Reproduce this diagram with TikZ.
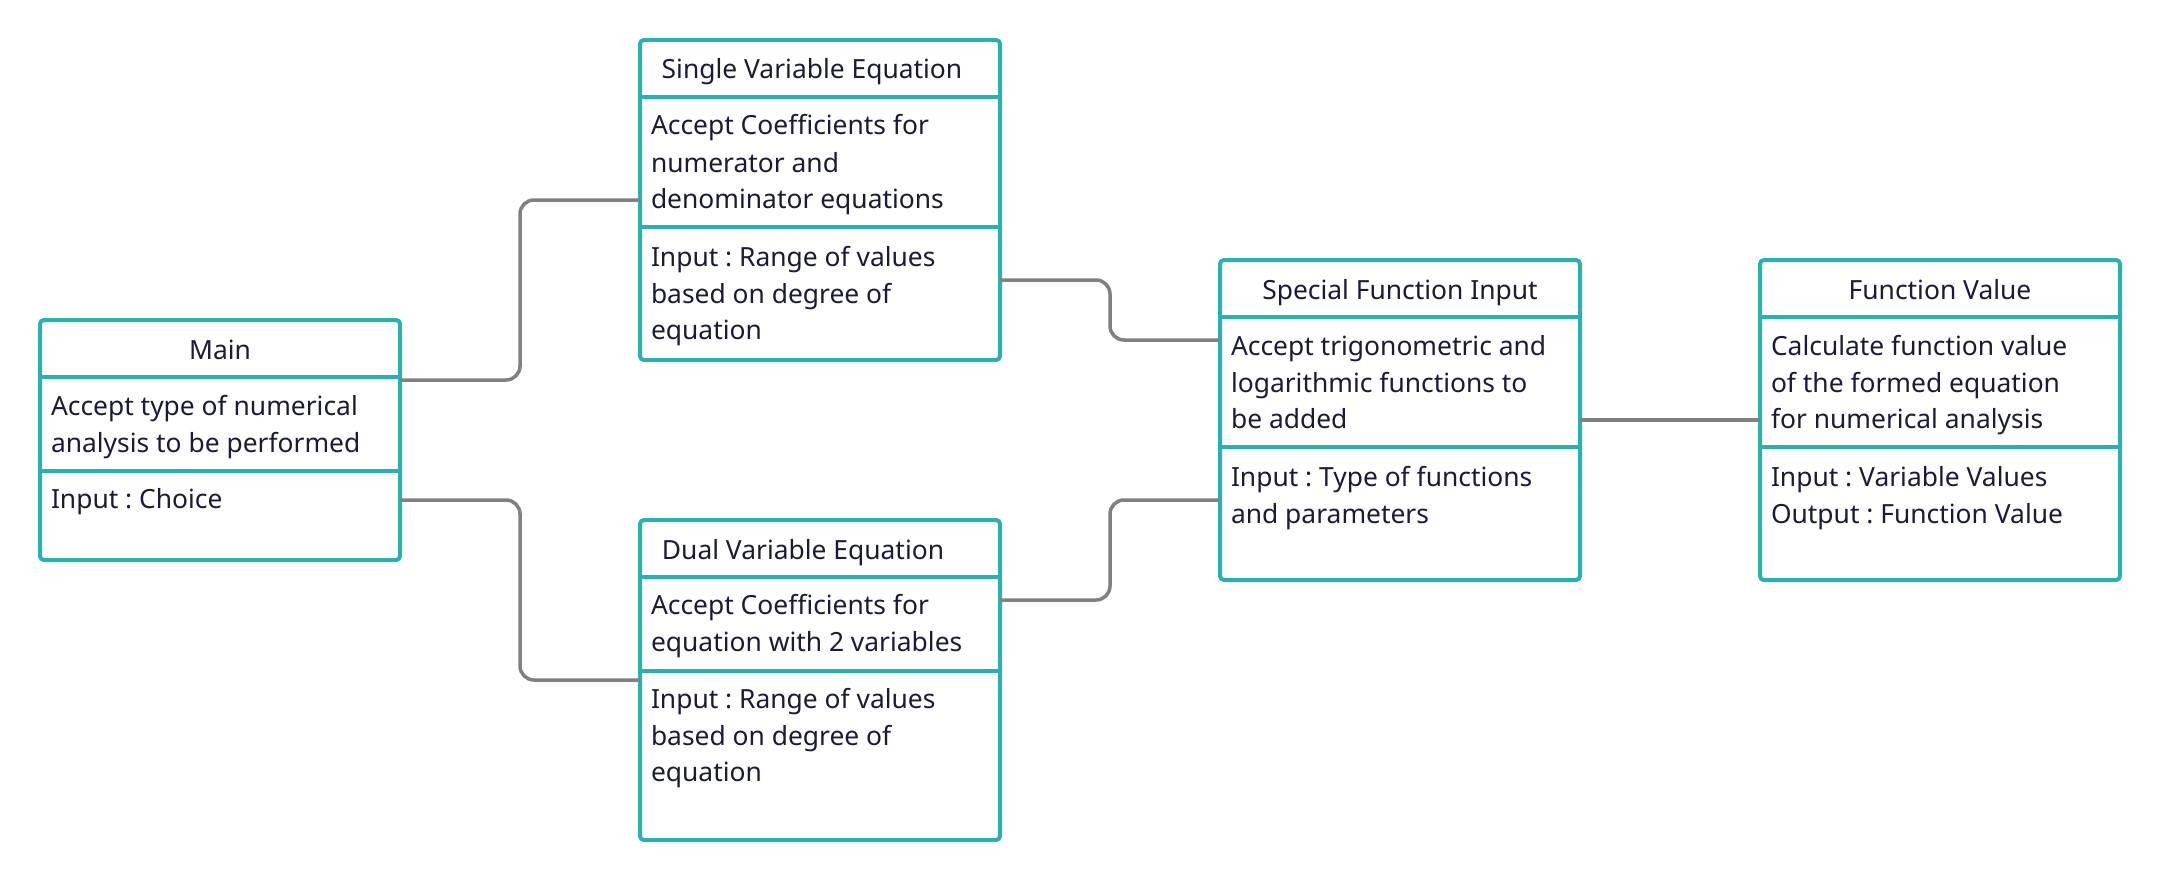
\documentclass[tikz,border=0pt]{standalone}
\usepackage{fontspec}
\setmainfont{Noto Sans}
\usetikzlibrary{calc}

\definecolor{frameteal}{HTML}{29B1AF}
\definecolor{linkgray}{HTML}{808080}
\definecolor{inkblue}{HTML}{1B1B35}

\tikzset{
  umlbox/.style={draw=frameteal, line width=4pt, rounded corners=4pt,
    fill=white, minimum width=360pt, inner sep=0pt, outer sep=0pt},
  divider/.style={draw=frameteal, line width=4pt},
  link/.style={draw=linkgray, line width=3.5pt, rounded corners=14pt},
  txt/.style={inner sep=0pt, outer sep=0pt, text=inkblue,
    font=\fontsize{26.4}{36}\selectfont\frenchspacing, anchor=base west},
  ttl/.style={txt, anchor=base},
}

\begin{document}
\begin{tikzpicture}[x=1pt, y=-1pt]
  % canvas
  \path[use as bounding box, fill=white] (0,0) rectangle (2160,880);

  % class boxes
  \node[umlbox, minimum height=240pt, anchor=north west] (main) at (40,320) {};
  \node[umlbox, minimum height=320pt, anchor=north west] (sve)  at (640,40) {};
  \node[umlbox, minimum height=320pt, anchor=north west] (dve)  at (640,520) {};
  \node[umlbox, minimum height=320pt, anchor=north west] (sfi)  at (1220,260) {};
  \node[umlbox, minimum height=320pt, anchor=north west] (fval) at (1760,260) {};

  % compartment dividers
  \draw[divider] ($(main.north west)+(0,57)$) -- ($(main.north east)+(0,57)$);
  \draw[divider] ($(main.north west)+(0,151)$) -- ($(main.north east)+(0,151)$);
  \draw[divider] ($(sve.north west)+(0,57)$) -- ($(sve.north east)+(0,57)$);
  \draw[divider] ($(sve.north west)+(0,187)$) -- ($(sve.north east)+(0,187)$);
  \draw[divider] ($(dve.north west)+(0,57)$) -- ($(dve.north east)+(0,57)$);
  \draw[divider] ($(dve.north west)+(0,151)$) -- ($(dve.north east)+(0,151)$);
  \draw[divider] ($(sfi.north west)+(0,57)$) -- ($(sfi.north east)+(0,57)$);
  \draw[divider] ($(sfi.north west)+(0,187)$) -- ($(sfi.north east)+(0,187)$);
  \draw[divider] ($(fval.north west)+(0,57)$) -- ($(fval.north east)+(0,57)$);
  \draw[divider] ($(fval.north west)+(0,187)$) -- ($(fval.north east)+(0,187)$);

  % Main
  \node[ttl] (main-t) at (220,359) {Main};
  \node[txt] (main-a1) at (51,415) {Accept type of numerical};
  \node[txt] (main-a2) at (51,452) {analysis to be performed};
  \node[txt] (main-i1) at (51,508) {Input : Choice};

  % Single Variable Equation
  \node[ttl] (sve-t) at (812,79) {Single Variable Equation};
  \node[txt] (sve-a1) at (651,135) {Accept Coefficients for};
  \node[txt] (sve-a2) at (651,172) {numerator and};
  \node[txt] (sve-a3) at (651,208) {denominator equations};
  \node[txt] (sve-i1) at (651,266) {Input : Range of values};
  \node[txt] (sve-i2) at (651,303) {based on degree of};
  \node[txt] (sve-i3) at (651,339) {equation};

  % Dual Variable Equation
  \node[ttl] (dve-t) at (803,559) {Dual Variable Equation};
  \node[txt] (dve-a1) at (651,614) {Accept Coefficients for};
  \node[txt] (dve-a2) at (651,651) {equation with 2 variables};
  \node[txt] (dve-i1) at (651,708) {Input : Range of values};
  \node[txt] (dve-i2) at (651,745) {based on degree of};
  \node[txt] (dve-i3) at (651,781) {equation};

  % Special Function Input
  \node[ttl] (sfi-t) at (1400,299) {Special Function Input};
  \node[txt] (sfi-a1) at (1231,355) {Accept trigonometric and};
  \node[txt] (sfi-a2) at (1231,392) {logarithmic functions to};
  \node[txt] (sfi-a3) at (1231,428) {be added};
  \node[txt] (sfi-i1) at (1231,486) {Input : Type of functions};
  \node[txt] (sfi-i2) at (1231,523) {and parameters};

  % Function Value
  \node[ttl] (fval-t) at (1940,299) {Function Value};
  \node[txt] (fval-a1) at (1771,355) {Calculate function value};
  \node[txt] (fval-a2) at (1771,392) {of the formed equation};
  \node[txt] (fval-a3) at (1771,428) {for numerical analysis};
  \node[txt] (fval-i1) at (1771,486) {Input : Variable Values};
  \node[txt] (fval-i2) at (1771,523) {Output : Function Value};

  % connector ports
  \coordinate (mainUp)  at ($(main.north east)+(0,60)$);
  \coordinate (mainDn)  at ($(main.north east)+(0,180)$);
  \coordinate (sveIn)   at ($(sve.north west)+(0,160)$);
  \coordinate (sveOut)  at ($(sve.north east)+(0,240)$);
  \coordinate (dveIn)   at ($(dve.north west)+(0,160)$);
  \coordinate (dveOut)  at ($(dve.north east)+(0,80)$);
  \coordinate (sfiInA)  at ($(sfi.north west)+(0,80)$);
  \coordinate (sfiInB)  at ($(sfi.north west)+(0,240)$);
  \coordinate (sfiOut)  at ($(sfi.north east)+(0,160)$);
  \coordinate (fvalIn)  at ($(fval.north west)+(0,160)$);

  % connectors
  \draw[link] (mainUp) -| ($(mainUp)!.5!(sveIn)$) |- (sveIn);
  \draw[link] (mainDn) -| ($(mainDn)!.5!(dveIn)$) |- (dveIn);
  \draw[link] (sveOut) -| ($(sveOut)!.5!(sfiInA)$) |- (sfiInA);
  \draw[link] (dveOut) -| ($(dveOut)!.5!(sfiInB)$) |- (sfiInB);
  \draw[link] (sfiOut) -- (fvalIn);
\end{tikzpicture}
\end{document}
